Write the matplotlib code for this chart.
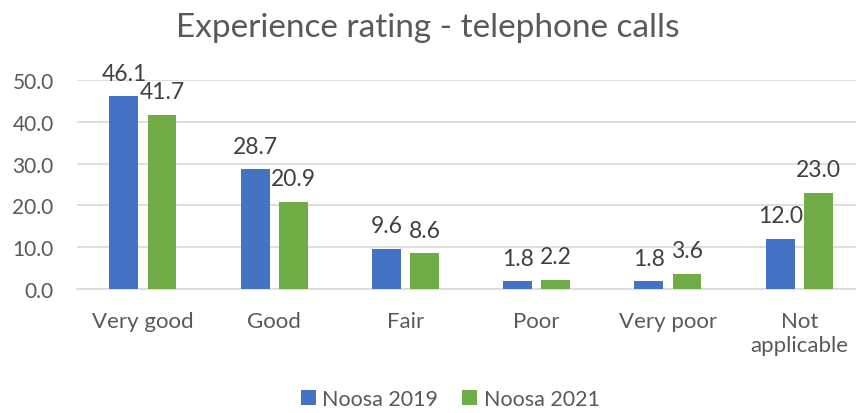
import numpy as np
import matplotlib.pyplot as plt

categories = ['Very good', 'Good', 'Fair', 'Poor', 'Very poor', 'Not\napplicable']
noosa_2019 = [46.1, 28.7, 9.6, 1.8, 1.8, 12.0]
noosa_2021 = [41.7, 20.9, 8.6, 2.2, 3.6, 23.0]
series_names = ['Noosa 2019', 'Noosa 2021']

plt.rcParams['font.family'] = ['Lato', 'DejaVu Sans']
text_col = '#595959'

fig = plt.figure(figsize=(8.56, 4.14), dpi=100)
# plot area runs a little past the right edge, as in the original
ax = fig.add_axes([0.0903, 0.2995, 0.920, 0.505])

x = np.arange(len(categories))
w = 0.22
off = 0.145
b1 = ax.bar(x - off, noosa_2019, w, color='#4472C4', label=series_names[0], zorder=3)
b2 = ax.bar(x + off, noosa_2021, w, color='#70AD47', label=series_names[1], zorder=3)

for bars in (b1, b2):
    for r in bars:
        ax.annotate('%.1f' % r.get_height(), (r.get_x() + r.get_width() / 2, r.get_height()),
                    xytext=(0, 9), textcoords='offset points', ha='center', va='bottom',
                    fontsize=16.5, color='#404040')

ax.set_xlim(-0.5, len(categories) - 0.5)
ax.set_ylim(0, 50)
ax.set_yticks(np.arange(0, 51, 10))
ax.set_yticklabels(['%.1f' % v for v in np.arange(0, 51, 10)])
ax.set_xticks(x)
ax.set_xticklabels(categories, linespacing=1.25)
ax.tick_params(axis='both', length=0, colors=text_col)
ax.tick_params(axis='x', pad=16, labelsize=16)
ax.tick_params(axis='y', pad=17, labelsize=15)
ax.yaxis.grid(True, color='#D9D9D9', linewidth=1.2, zorder=0)
for s in ['top', 'right', 'left']:
    ax.spines[s].set_visible(False)
ax.spines['bottom'].set_color('#D9D9D9')
ax.spines['bottom'].set_linewidth(1.2)

fig.suptitle('Experience rating - telephone calls', y=0.968, fontsize=24, color=text_col)
fig.legend(loc='lower center', bbox_to_anchor=(0.526, -0.038), ncol=2, frameon=False,
           fontsize=15.5, handlelength=0.7, handleheight=0.7, handletextpad=0.3,
           columnspacing=1.1, labelcolor=text_col)

fig.savefig('out.png', dpi=100)
